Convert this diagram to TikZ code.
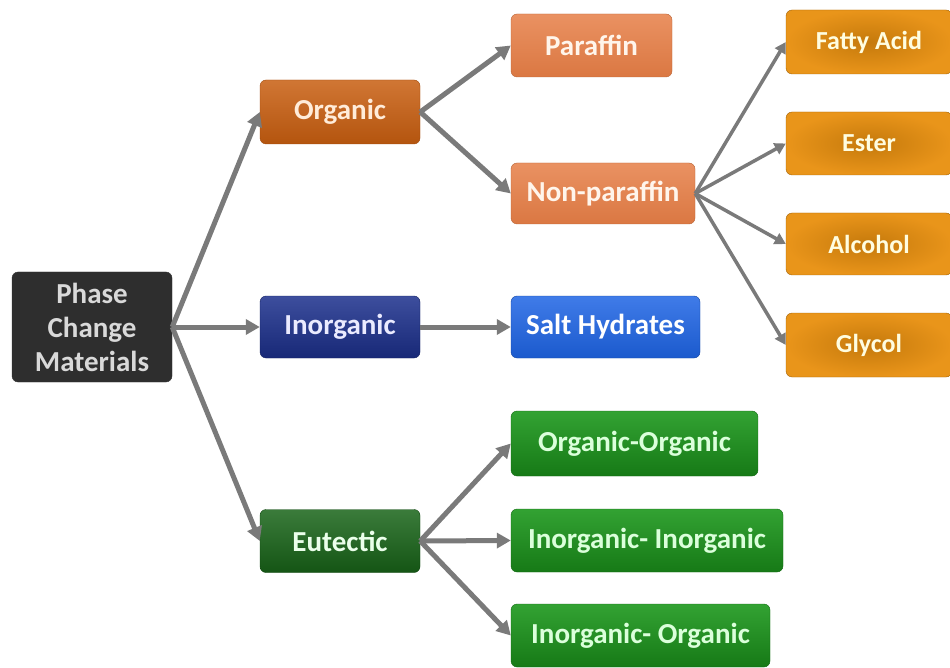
\documentclass[tikz,border=0pt]{standalone}
\usepackage{fontspec}
\setmainfont{Carlito}
\usetikzlibrary{arrows.meta,shadings}
\definecolor{arrgray}{HTML}{7A7A7A}
\definecolor{pcmc}{HTML}{2E2E2E}
\definecolor{orgc}{HTML}{C85E10}
\definecolor{parc}{HTML}{E67E46}
\definecolor{leafo}{HTML}{E88F0E}
\definecolor{inoc}{HTML}{1B2F8C}
\definecolor{saltc}{HTML}{1E64E4}
\definecolor{eutc}{HTML}{186418}
\definecolor{leafg}{HTML}{1C981C}
\tikzset{
  box/.style={rounded corners=6pt, inner sep=0pt, align=center,
    font=\bfseries\fontsize{29}{34}\selectfont},
  pcmbox/.style={box, fill=pcmc, draw=black!80, text=white!85!black},
  orgbox/.style={box, top color=orgc!85!white, bottom color=orgc!90!black, draw=orgc!80!black, text=orange!15!white},
  parbox/.style={box, top color=parc!85!white, bottom color=parc!95!black, draw=parc!80!black, text=orange!8!white},
  leafobox/.style={box, font=\bfseries\fontsize{26}{30}\selectfont, inner color=leafo!85!black, outer color=leafo!95!white, draw=leafo!70!black, text=yellow!12!white},
  inobox/.style={box, top color=inoc!85!white, bottom color=inoc!85!black, draw=inoc!70!black, text=blue!8!white},
  saltbox/.style={box, top color=saltc!85!white, bottom color=saltc!90!black, draw=saltc!70!black, text=white},
  eutbox/.style={box, top color=eutc!85!white, bottom color=eutc!85!black, draw=eutc!70!black, text=green!8!white},
  leafgbox/.style={box, top color=leafg!90!white, bottom color=leafg!80!black, draw=leafg!70!black, text=green!14!white},
  arr/.style={draw=arrgray, line width=5pt, -{Triangle[width=15pt,length=14pt]}},
  arrthin/.style={draw=arrgray, line width=3.5pt, -{Triangle[width=12pt,length=11pt]}},
}
\begin{document}
\begin{tikzpicture}[x=1pt,y=-1pt]
\useasboundingbox (0,0) rectangle (950,668);
% level 0
\node[pcmbox, minimum width=160pt, minimum height=110pt] (pcm) at (92,327) {Phase\\Change\\Materials};
% level 1
\node[orgbox, minimum width=160pt, minimum height=64pt] (org) at (340,112) {Organic};
\node[inobox, minimum width=160pt, minimum height=62pt] (ino) at (340,327) {Inorganic};
\node[eutbox, minimum width=160pt, minimum height=63pt] (eut) at (340,541) {Eutectic};
% level 2
\node[parbox, minimum width=161pt, minimum height=63pt] (par) at (591.5,45.5) {Paraffin};
\node[parbox, minimum width=184pt, minimum height=61pt] (npar) at (603,193.5) {Non-paraffin};
\node[saltbox, minimum width=189pt, minimum height=62pt] (salt) at (605.5,327) {Salt Hydrates};
\node[leafgbox, minimum width=247pt, minimum height=65pt] (oo) at (634.5,443.5) {Organic-Organic};
\node[leafgbox, minimum width=272pt, minimum height=63pt] (ii) at (647,540.5) {Inorganic- Inorganic};
\node[leafgbox, minimum width=259pt, minimum height=63pt] (io) at (640.5,635.5) {Inorganic- Organic};
% level 3
\node[leafobox, minimum width=166pt, minimum height=64pt] (fa) at (869,42) {Fatty Acid};
\node[leafobox, minimum width=166pt, minimum height=63pt] (est) at (869,143.5) {Ester};
\node[leafobox, minimum width=166pt, minimum height=62pt] (alc) at (869,244) {Alcohol};
\node[leafobox, minimum width=166pt, minimum height=64pt] (gly) at (869,345) {Glycol};
% connectors
\draw[arr] (pcm.east) -- (org.west);
\draw[arr] (pcm.east) -- (ino.west);
\draw[arr] (pcm.east) -- (eut.west);
\draw[arr] (org.east) -- (par.west);
\draw[arr] (org.east) -- (npar.west);
\draw[arr] (ino.east) -- (salt.west);
\draw[arr] (eut.east) -- (oo.west);
\draw[arr] (eut.east) -- (ii.west);
\draw[arr] (eut.east) -- (io.west);
\draw[arrthin] (npar.east) -- (fa.west);
\draw[arrthin] (npar.east) -- (est.west);
\draw[arrthin] (npar.east) -- (alc.west);
\draw[arrthin] (npar.east) -- (gly.west);
\end{tikzpicture}
\end{document}
